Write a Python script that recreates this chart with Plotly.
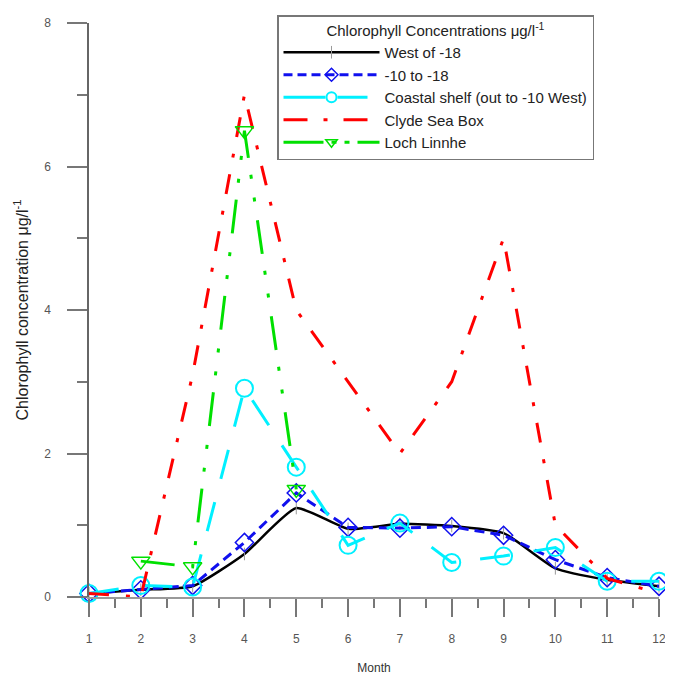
import plotly.graph_objects as go

months = [1, 2, 3, 4, 5, 6, 7, 8, 9, 10, 11, 12]
west_of_18 = [0.05, 0.10, 0.15, 0.60, 1.24, 0.95, 1.02, 0.99, 0.89, 0.40, 0.24, 0.15]
minus10_to_18 = [0.05, 0.10, 0.16, 0.76, 1.45, 0.97, 0.96, 0.98, 0.86, 0.52, 0.27, 0.15]
coastal_shelf = [0.05, 0.16, 0.14, 2.91, 1.81, 0.72, 1.03, 0.48, 0.57, 0.69, 0.22, 0.22]
clyde_sea_box = [0.05, 0.00, 3.10, 7.00, 4.00, 3.00, 2.00, 3.00, 5.00, 1.00, 0.26, 0.05]
loch_linnhe = [None, 0.50, 0.42, 6.50, 1.50, None, None, None, None, None, None, None]

names = ["West of -18", "-10 to -18", "Coastal shelf (out to -10 West)",
         "Clyde Sea Box", "Loch Linnhe"]
legend_title = "Chlorophyll Concentrations μg/l<sup>-1</sup>"
y_title = "Chlorophyll concentration μg/l<sup>-1</sup>"
x_title = "Month"
y_ticks = [0, 2, 4, 6, 8]

FONT = "Liberation Sans, Arial, sans-serif"
OFF = 8  # page body margin offsets the figure by 8px
W, H = 673 - OFF, 677 - OFF
PLOT_L, PLOT_R, PLOT_T, PLOT_B = 89 - OFF, 659 - OFF, 23 - OFF, 597 - OFF

styles = [
    dict(line=dict(color="black", width=2.5),
         marker=dict(symbol="line-ns", size=9, color="#9a9a9a",
                     line=dict(color="#9a9a9a", width=1)), mode="lines+markers"),
    dict(line=dict(color="#1010ee", width=3, dash="10px,6px"),
         marker=dict(symbol="diamond-open", size=14, color="#1010ee",
                     line=dict(color="#1010ee", width=1.5)), mode="lines+markers"),
    dict(line=dict(color="#00f0ff", width=3, dash="30px,24px"),
         marker=dict(symbol="circle-open", size=17, color="#00f0ff",
                     line=dict(color="#00f0ff", width=2)), mode="lines+markers"),
    dict(line=dict(color="#ff0000", width=3, dash="20px,17px,4px,17px"),
         marker=None, mode="lines"),
    dict(line=dict(color="#00e000", width=3, dash="34px,17px,4px,19px,4px,19px"),
         marker=dict(symbol="triangle-down-open", size=16, color="#00e000",
                     line=dict(color="#00e000", width=1.5)), mode="lines+markers"),
]
series = [west_of_18, minus10_to_18, coastal_shelf, clyde_sea_box, loch_linnhe]

fig = go.Figure()
for i, (name, vals, st) in enumerate(zip(names, series, styles)):
    line = dict(st["line"])
    if i == 0:
        line.update(shape="spline", smoothing=0.5)
    kw = dict(x=months, y=vals, name=name, mode=st["mode"], line=line,
              legendgroup=name, showlegend=False, cliponaxis=False)
    if st["marker"] is not None:
        kw["marker"] = st["marker"]
    fig.add_trace(go.Scatter(**kw))

# legend entries with smaller marker glyphs (no data of their own)
legend_dash = ["solid", "9px,5px", "42px,12px,30px", "24px,16px,4px,16px",
               "40px,8px,5px,8px,5px,8px"]
for i, (name, st) in enumerate(zip(names, styles)):
    kw = dict(x=[None], y=[None], name=name, mode=st["mode"],
              line=dict(st["line"], dash=legend_dash[i]), legendgroup=name, showlegend=True)
    if st["marker"] is not None:
        m = dict(st["marker"])
        m["size"] = 10 if i > 0 else 9
        kw["marker"] = m
    fig.add_trace(go.Scatter(**kw))

pw = PLOT_R - PLOT_L
ph = PLOT_B - PLOT_T
LEG_X = 278 - OFF - 1
LEG_Y = 15 - OFF
fig.update_layout(
    width=W, height=H,
    margin=dict(l=PLOT_L, r=W - PLOT_R, t=PLOT_T, b=H - PLOT_B, autoexpand=False),
    paper_bgcolor="white", plot_bgcolor="white",
    font=dict(family=FONT, size=12, color="#333"),
    showlegend=True,
    legend=dict(
        x=(LEG_X - PLOT_L) / pw, y=(PLOT_B - LEG_Y) / ph, xanchor="left", yanchor="top",
        bgcolor="white", bordercolor="#777", borderwidth=1.5,
        font=dict(family=FONT, size=15, color="#222"),
        title=dict(text=legend_title, side="top center",
                   font=dict(family=FONT, size=15, color="#222")),
        itemwidth=96, tracegroupgap=0,
    ),
    xaxis=dict(
        range=[1, 12], tickmode="array", tickvals=months, automargin=False,
        ticks="outside", ticklen=18, tickwidth=1.5, tickcolor="#777",
        showline=True, linecolor="#999", linewidth=2,
        showgrid=False, zeroline=False, ticklabelstandoff=12,
        tickfont=dict(family=FONT, size=12, color="#555"),
        minor=dict(dtick=0.5, tick0=1.5, ticks="outside", ticklen=9,
                   tickwidth=1.5, tickcolor="#777", showgrid=False),
        title=dict(text=x_title, standoff=18,
                   font=dict(family=FONT, size=12, color="#333")),
    ),
    yaxis=dict(
        range=[0, 8], tickmode="array", tickvals=y_ticks, automargin=False,
        ticks="outside", ticklen=20, tickwidth=1.5, tickcolor="#777",
        showline=True, linecolor="#666", linewidth=1.5,
        showgrid=False, zeroline=False, ticklabelstandoff=14,
        tickfont=dict(family=FONT, size=12, color="#555"),
        minor=dict(dtick=1, tick0=1, ticks="outside", ticklen=10,
                   tickwidth=1.5, tickcolor="#777", showgrid=False),
        title=dict(text=y_title, standoff=12,
                   font=dict(family=FONT, size=16, color="#222")),
    ),
)

fig.write_html("out.html")
